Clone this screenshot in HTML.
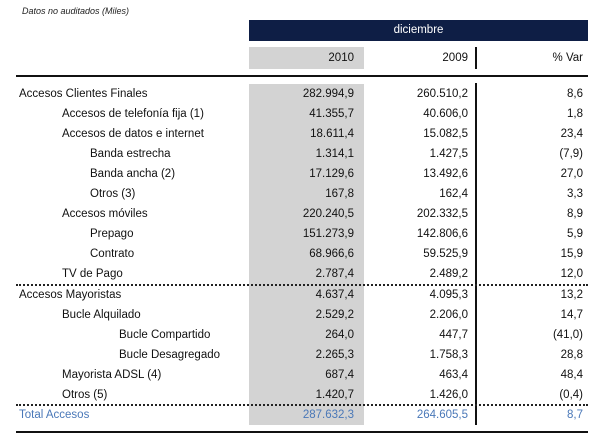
<!DOCTYPE html>
<html><head><meta charset="utf-8"><style>
body{margin:0;width:600px;height:439px;background:#fff;position:relative;overflow:hidden;font-family:"Liberation Sans",sans-serif;font-size:11.5px;color:#111}
div{position:absolute}
.r{height:20px;line-height:20px;left:0;width:600px}
.r span{position:absolute;white-space:nowrap}
.a{right:246px}.b{right:132px}.c{right:17px}
.blue{color:#4a78b8}
</style></head><body>
<div style="left:22px;top:6px;font-size:9px;font-style:italic;color:#222">Datos no auditados (Miles)</div>
<div style="left:249px;top:20px;width:339px;height:21px;background:#0e1e45;color:#fff;text-align:center;line-height:21px">diciembre</div>
<div style="left:249px;top:47px;width:115px;height:22px;background:#d3d3d3"></div>
<div style="left:475px;top:47px;width:2px;height:22px;background:#111"></div>
<div class="r" style="top:48px"><span class="a">2010</span><span class="b">2009</span><span class="c">% Var</span></div>
<div style="left:16px;top:75px;width:572px;height:2px;background:#111"></div>
<div style="left:249px;top:84px;width:115px;height:341px;background:#d3d3d3"></div>
<div style="left:475px;top:83px;width:2px;height:342px;background:#111"></div>
<div style="left:16px;top:284px;width:572px;height:0;border-top:2px dotted #222"></div>
<div style="left:16px;top:404px;width:572px;height:0;border-top:2px dotted #222"></div>
<div style="left:16px;top:431px;width:572px;height:2px;background:#111"></div>

<div class="r" style="top:84px"><span style="left:19px">Accesos Clientes Finales</span><span class="a">282.994,9</span><span class="b">260.510,2</span><span class="c">8,6</span></div>
<div class="r" style="top:104px"><span style="left:62px">Accesos de telefonía fija (1)</span><span class="a">41.355,7</span><span class="b">40.606,0</span><span class="c">1,8</span></div>
<div class="r" style="top:124px"><span style="left:62px">Accesos de datos e internet</span><span class="a">18.611,4</span><span class="b">15.082,5</span><span class="c">23,4</span></div>
<div class="r" style="top:144px"><span style="left:90px">Banda estrecha</span><span class="a">1.314,1</span><span class="b">1.427,5</span><span class="c">(7,9)</span></div>
<div class="r" style="top:164px"><span style="left:90px">Banda ancha (2)</span><span class="a">17.129,6</span><span class="b">13.492,6</span><span class="c">27,0</span></div>
<div class="r" style="top:184px"><span style="left:90px">Otros (3)</span><span class="a">167,8</span><span class="b">162,4</span><span class="c">3,3</span></div>
<div class="r" style="top:204px"><span style="left:62px">Accesos móviles</span><span class="a">220.240,5</span><span class="b">202.332,5</span><span class="c">8,9</span></div>
<div class="r" style="top:224px"><span style="left:90px">Prepago</span><span class="a">151.273,9</span><span class="b">142.806,6</span><span class="c">5,9</span></div>
<div class="r" style="top:244px"><span style="left:90px">Contrato</span><span class="a">68.966,6</span><span class="b">59.525,9</span><span class="c">15,9</span></div>
<div class="r" style="top:264px"><span style="left:62px">TV de Pago</span><span class="a">2.787,4</span><span class="b">2.489,2</span><span class="c">12,0</span></div>
<div class="r" style="top:285px"><span style="left:19px">Accesos Mayoristas</span><span class="a">4.637,4</span><span class="b">4.095,3</span><span class="c">13,2</span></div>
<div class="r" style="top:305px"><span style="left:62px">Bucle Alquilado</span><span class="a">2.529,2</span><span class="b">2.206,0</span><span class="c">14,7</span></div>
<div class="r" style="top:325px"><span style="left:119px">Bucle Compartido</span><span class="a">264,0</span><span class="b">447,7</span><span class="c">(41,0)</span></div>
<div class="r" style="top:345px"><span style="left:119px">Bucle Desagregado</span><span class="a">2.265,3</span><span class="b">1.758,3</span><span class="c">28,8</span></div>
<div class="r" style="top:365px"><span style="left:62px">Mayorista ADSL (4)</span><span class="a">687,4</span><span class="b">463,4</span><span class="c">48,4</span></div>
<div class="r" style="top:385px"><span style="left:62px">Otros (5)</span><span class="a">1.420,7</span><span class="b">1.426,0</span><span class="c">(0,4)</span></div>
<div class="r blue" style="top:405px"><span style="left:19px">Total Accesos</span><span class="a">287.632,3</span><span class="b">264.605,5</span><span class="c">8,7</span></div>
</body></html>
